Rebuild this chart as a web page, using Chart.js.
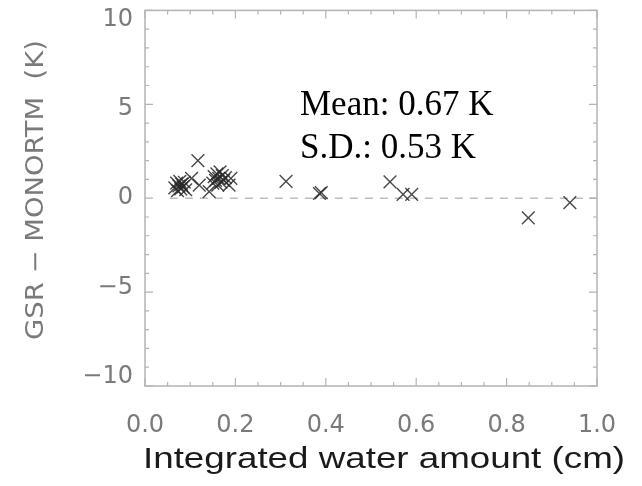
<!DOCTYPE html>
<html>
<head>
<meta charset="utf-8">
<script src="https://cdn.jsdelivr.net/npm/chart.js@4"></script>
<style>
  html, body { margin: 0; padding: 0; background: #fff; }
  #chart { display: block; }
</style>
</head>
<body>
<canvas id="chart" width="642" height="486"></canvas>
<script>
// values
const waterCm = [
  0.066, 0.070, 0.072, 0.075, 0.077, 0.079, 0.081, 0.084, 0.087, 0.090,
  0.103, 0.117, 0.120, 0.142,
  0.150, 0.153, 0.156, 0.159, 0.161, 0.163, 0.166, 0.168, 0.171, 0.174, 0.178, 0.186, 0.190,
  0.312, 0.386, 0.390, 0.542, 0.571, 0.590, 0.848, 0.940
];
const diffK = [
  0.55, 0.80, 0.40, 0.65, 0.90, 0.50, 0.75, 0.60, 0.85, 0.45,
  1.05, 2.00, 0.70, 0.35,
  0.80, 1.15, 0.95, 1.30, 0.70, 1.05, 1.40, 0.85, 1.20, 0.95, 1.10, 0.70, 1.05,
  0.90, 0.25, 0.30, 0.87, 0.20, 0.20, -1.05, -0.23
];
const zeroLineX = [0.055, 1.0];
const xTicks = [0, 0.2, 0.4, 0.6, 0.8, 1.0];
const yTicks = [-10, -5, 0, 5, 10];
const statsText = ['Mean: 0.67 K', 'S.D.: 0.53 K'];
const xTitle = 'Integrated water amount (cm)';
const yTitle = 'GSR \u2212 MONORTM  (K)';

const GRAY = '#b4b4b4';
const LABEL = '#7a7a7a';
const TICK_FONT = '24px "DejaVu Sans", sans-serif';

const yLabel = v => (v < 0 ? '\u2212' + Math.abs(v) : String(v));

// box + inward ticks on all four sides (IDL look)
const frame = {
  id: 'frame',
  afterDatasetsDraw(chart) {
    const { ctx, chartArea: a, scales: { x, y } } = chart;
    ctx.save();
    ctx.strokeStyle = GRAY;
    ctx.lineWidth = 1.5;
    ctx.strokeRect(a.left, a.top, a.right - a.left, a.bottom - a.top);
    ctx.lineWidth = 1.2;
    ctx.beginPath();
    for (let i = 0; i <= 20; i++) {
      const px = x.getPixelForValue(i * 0.05);
      const len = i % 4 === 0 ? 8 : 4;
      ctx.moveTo(px, a.bottom); ctx.lineTo(px, a.bottom - len);
      ctx.moveTo(px, a.top); ctx.lineTo(px, a.top + len);
    }
    for (let i = -10; i <= 10; i++) {
      const py = y.getPixelForValue(i);
      const len = i % 5 === 0 ? 8 : 4;
      ctx.moveTo(a.left, py); ctx.lineTo(a.left + len, py);
      ctx.moveTo(a.right, py); ctx.lineTo(a.right - len, py);
    }
    ctx.stroke();

    // y labels sit a little inside the end ticks, as in the original
    const mid = (a.top + a.bottom) / 2;
    ctx.font = TICK_FONT;
    ctx.fillStyle = LABEL;
    ctx.textAlign = 'right';
    ctx.textBaseline = 'middle';
    yTicks.forEach(v => {
      const py = y.getPixelForValue(v);
      ctx.fillText(yLabel(v), a.left - 12, mid + (py - mid) * 0.95);
    });
    ctx.restore();
  }
};

// axis titles and the stats note
const texts = {
  id: 'texts',
  afterDraw(chart) {
    const { ctx } = chart;
    ctx.save();

    // x title, stretched to fill its box like the original
    ctx.font = '29px "Liberation Sans", Arial, sans-serif';
    ctx.fillStyle = '#1a1a1a';
    ctx.textBaseline = 'alphabetic';
    let w = ctx.measureText(xTitle).width;
    ctx.save();
    ctx.translate(143, 468);
    ctx.scale(482 / w, 1);
    ctx.fillText(xTitle, 0, 0);
    ctx.restore();

    // y title, rotated
    ctx.font = '24px "DejaVu Sans", sans-serif';
    ctx.fillStyle = LABEL;
    w = ctx.measureText(yTitle).width;
    ctx.save();
    ctx.translate(43, 190);
    ctx.rotate(-Math.PI / 2);
    ctx.scale(300 / w, 1);
    ctx.textAlign = 'center';
    ctx.fillText(yTitle, 0, 0);
    ctx.restore();

    // stats
    ctx.font = '35px "Liberation Serif", "Times New Roman", serif';
    ctx.fillStyle = '#000';
    ctx.textAlign = 'left';
    ctx.fillText(statsText[0], 300, 115);
    ctx.fillText(statsText[1], 300, 158);
    ctx.restore();
  }
};

new Chart(document.getElementById('chart'), {
  type: 'scatter',
  data: {
    datasets: [
      {
        data: waterCm.map((v, i) => ({ x: v, y: diffK[i] })),
        pointStyle: 'crossRot',
        pointRadius: 9,
        pointHoverRadius: 9,
        borderColor: 'rgba(40,40,40,0.85)',
        pointBorderWidth: 1.4
      },
      {
        type: 'line',
        data: zeroLineX.map(v => ({ x: v, y: 0 })),
        borderColor: '#bdbdbd',
        borderWidth: 1.5,
        borderDash: [8, 7],
        pointRadius: 0
      }
    ]
  },
  options: {
    responsive: false,
    animation: false,
    devicePixelRatio: 1,
    layout: { padding: { top: 10, right: 45, left: 0, bottom: 0 } },
    plugins: { legend: { display: false }, tooltip: { enabled: false } },
    scales: {
      x: {
        type: 'linear',
        min: 0,
        max: 1,
        afterBuildTicks: s => { s.ticks = xTicks.map(v => ({ value: v })); },
        afterFit: s => { s.height = 100; },
        grid: { display: false, drawTicks: false },
        border: { display: false },
        ticks: {
          padding: 25,
          color: LABEL,
          font: { family: '"DejaVu Sans", sans-serif', size: 24 },
          callback: v => v.toFixed(1)
        }
      },
      y: {
        min: -10,
        max: 10,
        afterBuildTicks: s => { s.ticks = yTicks.map(v => ({ value: v })); },
        afterFit: s => { s.width = 145; s.paddingTop = 0; s.paddingBottom = 0; },
        grid: { display: false, drawTicks: false },
        border: { display: false },
        ticks: { display: false }
      }
    }
  },
  plugins: [frame, texts]
});
</script>
</body>
</html>
